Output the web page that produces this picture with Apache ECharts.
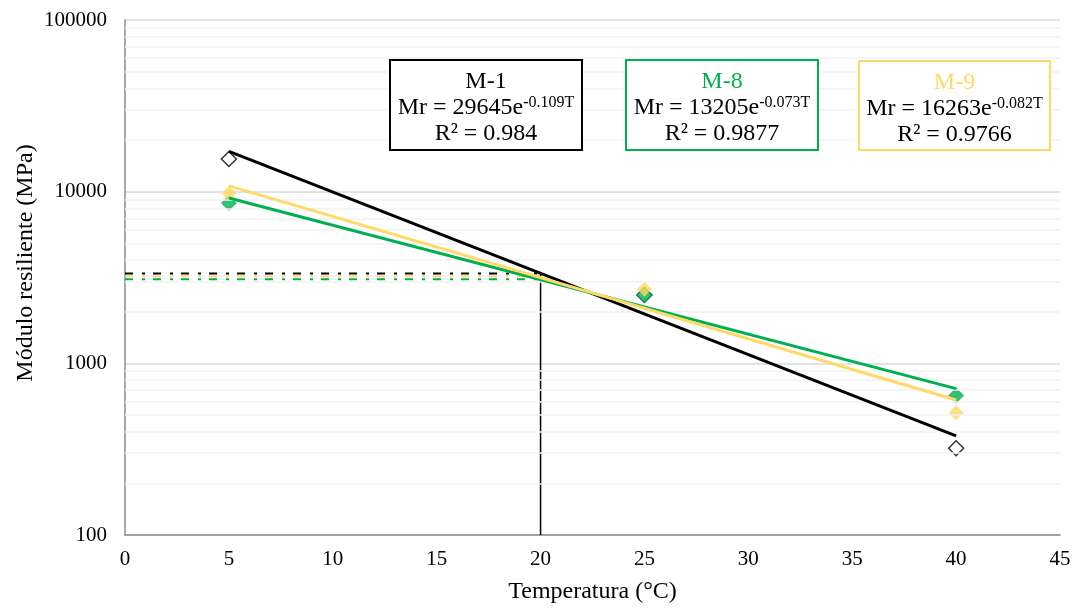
<!DOCTYPE html>
<html>
<head>
<meta charset="utf-8">
<script src="https://cdn.jsdelivr.net/npm/echarts@6/dist/echarts.min.js"></script>
<style>
  html, body { margin: 0; padding: 0; background: #fff; }
  #chart { width: 1081px; height: 609px; }
</style>
</head>
<body>
<div id="chart"></div>
<script>
// Measured resilient modulus (MPa) at each test temperature (°C)
const temps = [5, 25, 40];
const m1 = [15500, 2500, 320];
const m8 = [8600, 2500, 650];
const m9 = [9800, 2700, 515];

// Exponential trendline end values (straight lines on the log axis)
const fitTemps = [5, 40];
const m1Fit = [17160, 378];
const m8Fit = [9180, 712];
const m9Fit = [10800, 612];

// Modulus read at the 20 °C reference temperature
const refTemp = 20;
const ref20 = { m1: 3340, m8: 3090, m9: 3220 };

// Axis tick labels
const xTicks = [0, 5, 10, 15, 20, 25, 30, 35, 40, 45];
const yTicks = [100, 1000, 10000, 100000];

// Trendline equation boxes
const boxes = [
  { name: 'M-1', eq: '29645e', exp: '-0.109T', r2: '0.984' },
  { name: 'M-8', eq: '13205e', exp: '-0.073T', r2: '0.9877' },
  { name: 'M-9', eq: '16263e', exp: '-0.082T', r2: '0.9766' }
];

const BLACK = '#000000';
const GREEN = '#00B050';
const YELLOW = '#FFD966';
const FONT = "'Liberation Serif', 'Times New Roman', serif";

// minor log gridlines at 2..9 × each decade
const minorGrid = [];
for (let d = 100; d < 100000; d *= 10) {
  for (let k = 2; k <= 9; k++) minorGrid.push(k * d);
}

const pairs = (xs, ys) => xs.map((x, i) => [x, ys[i]]);

const chart = echarts.init(document.getElementById('chart'), null, { renderer: 'canvas' });

const dashDot = [8, 9, 3, 8];

const boxRects = [
  { x: 390, y: 60, w: 192, h: 90, color: BLACK },
  { x: 626, y: 60, w: 192, h: 90, color: GREEN },
  { x: 859, y: 61, w: 191, h: 89, color: YELLOW }
];

const graphics = [];
boxes.forEach((b, i) => {
  const r = boxRects[i];
  graphics.push({
    type: 'rect',
    z: 100,
    shape: { x: r.x, y: r.y, width: r.w, height: r.h },
    style: { fill: '#ffffff', stroke: r.color, lineWidth: 2 }
  });
  graphics.push({
    type: 'text',
    z: 101,
    x: r.x + r.w / 2,
    y: r.y + r.h / 2 + 3,
    style: {
      text: '{t|' + b.name + '}\n{m|Mr = ' + b.eq + '}{s|' + b.exp + '}\n{m|R² = ' + b.r2 + '}',
      align: 'center',
      verticalAlign: 'middle',
      rich: {
        t: { fontFamily: FONT, fontSize: 24, lineHeight: 26, fill: i === 0 ? BLACK : r.color },
        m: { fontFamily: FONT, fontSize: 24, lineHeight: 26, fill: BLACK },
        s: { fontFamily: FONT, fontSize: 16, lineHeight: 16, fill: BLACK, verticalAlign: 'top' }
      }
    }
  });
});

// vertical axis title
graphics.push({
  type: 'text',
  z: 101,
  x: 26,
  y: 263,
  rotation: Math.PI / 2,
  style: {
    text: 'Módulo resiliente (MPa)',
    fontFamily: FONT,
    fontSize: 24,
    fill: '#000',
    align: 'center',
    verticalAlign: 'middle'
  }
});

const option = {
  backgroundColor: '#ffffff',
  animation: false,
  grid: { left: 125, right: 21, top: 20, bottom: 74 },
  xAxis: {
    type: 'value',
    min: 0,
    max: 45,
    interval: 5,
    name: 'Temperatura (°C)',
    nameLocation: 'middle',
    nameGap: 45,
    nameTextStyle: { fontFamily: FONT, fontSize: 24, color: '#000' },
    axisLine: { show: true, lineStyle: { color: '#8c8c8c', width: 1.5 } },
    axisTick: { show: false },
    splitLine: { show: false },
    axisLabel: {
      fontFamily: FONT, fontSize: 21, color: '#000', margin: 14,
      formatter: v => (xTicks.indexOf(v) >= 0 ? String(v) : '')
    }
  },
  yAxis: {
    type: 'log',
    logBase: 10,
    min: yTicks[0],
    max: yTicks[yTicks.length - 1],
    axisLine: { show: true, lineStyle: { color: '#8c8c8c', width: 1.5 } },
    axisTick: { show: false },
    splitLine: { show: true, lineStyle: { color: '#d9d9d9', width: 1.5 } },
    axisLabel: {
      fontFamily: FONT, fontSize: 21, color: '#000', margin: 18,
      formatter: v => String(Math.round(v))
    }
  },
  series: [
    {
      // minor gridlines
      type: 'line',
      data: [],
      z: 1,
      silent: true,
      markLine: {
        silent: true,
        symbol: ['none', 'none'],
        label: { show: false },
        lineStyle: { color: '#f2f2f2', width: 1.5, type: 'solid', opacity: 1 },
        data: minorGrid.map(v => ({ yAxis: v }))
      }
    },
    {
      type: 'line', name: 'ref-m8', data: [[0, ref20.m8], [refTemp, ref20.m8]],
      symbol: 'none', z: 3, lineStyle: { color: GREEN, width: 2, type: dashDot }
    },
    {
      type: 'line', name: 'ref-m9', data: [[0, ref20.m9], [refTemp, ref20.m9]],
      symbol: 'none', z: 3, lineStyle: { color: YELLOW, width: 2, type: dashDot }
    },
    {
      type: 'line', name: 'ref-m1', data: [[0, ref20.m1], [refTemp, ref20.m1]],
      symbol: 'none', z: 3, lineStyle: { color: BLACK, width: 2, type: dashDot }
    },
    {
      type: 'line', name: 'ref-vertical', data: [[refTemp, yTicks[0]], [refTemp, ref20.m1]],
      symbol: 'none', z: 3, lineStyle: { color: BLACK, width: 1.5 }
    },
    {
      type: 'scatter', name: 'M-1', data: pairs(temps, m1), symbol: 'diamond', symbolSize: 15, z: 4,
      itemStyle: { color: '#ffffff', borderColor: BLACK, borderWidth: 1.5 }
    },
    {
      type: 'scatter', name: 'M-8', data: pairs(temps, m8), symbol: 'diamond', symbolSize: 16, z: 4,
      itemStyle: { color: GREEN }
    },
    {
      type: 'scatter', name: 'M-9', data: pairs(temps, m9), symbol: 'diamond', symbolSize: 15, z: 4,
      itemStyle: { color: YELLOW }
    },
    {
      type: 'line', name: 'M-1 fit', data: pairs(fitTemps, m1Fit), symbol: 'none', z: 5,
      lineStyle: { color: BLACK, width: 3 }
    },
    {
      type: 'line', name: 'M-8 fit', data: pairs(fitTemps, m8Fit), symbol: 'none', z: 5,
      lineStyle: { color: GREEN, width: 3 }
    },
    {
      type: 'line', name: 'M-9 fit', data: pairs(fitTemps, m9Fit), symbol: 'none', z: 5,
      lineStyle: { color: YELLOW, width: 3 }
    }
  ],
  graphic: graphics
};

chart.setOption(option);
</script>
</body>
</html>
